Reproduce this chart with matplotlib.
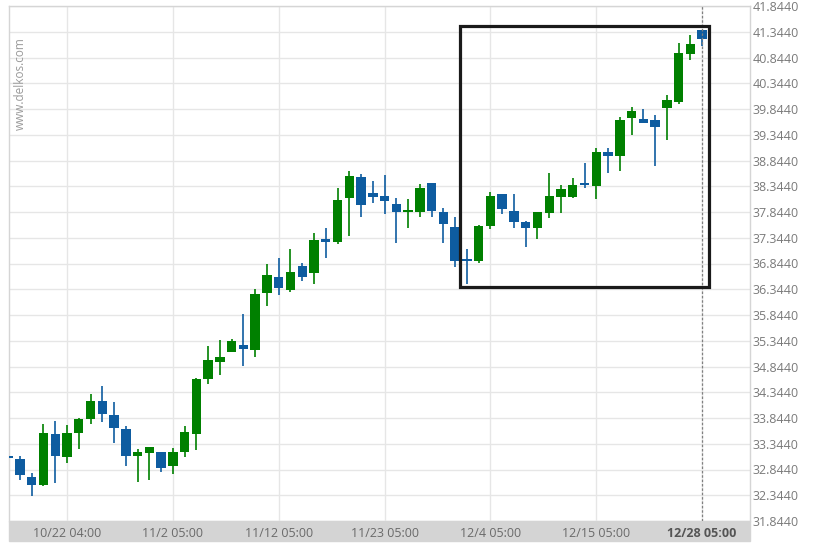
import matplotlib
matplotlib.use("Agg")
import matplotlib.pyplot as plt
from matplotlib.patches import Rectangle
import numpy as np

plt.rcParams['font.family'] = ['Open Sans', 'DejaVu Sans']

# daily candles
opens = [33.087, 33.048, 32.698, 32.543, 33.533, 33.087, 33.553, 33.825, 34.174, 33.902,
         33.630, 33.106, 33.164, 33.184, 32.912, 33.184, 33.533, 34.601, 34.931, 35.125,
         35.261, 35.164, 36.271, 36.582, 36.329, 36.796, 36.660, 37.320, 37.262, 38.116,
         38.524, 38.213, 38.155, 37.999, 37.844, 37.844, 38.407, 37.844, 37.553, 36.912,
         36.893, 37.572, 38.194, 37.863, 37.650, 37.533, 37.825, 38.135, 38.135, 38.407,
         38.349, 39.009, 38.931, 39.669, 39.650, 39.630, 39.863, 39.980, 40.912, 41.378]
highs = [33.126, 33.106, 32.776, 33.727, 33.786, 33.708, 33.844, 34.310, 34.465, 34.155,
         33.689, 33.242, 33.290, 33.190, 33.262, 33.689, 34.621, 35.242, 35.358, 35.380,
         35.864, 36.349, 36.834, 36.951, 37.126, 36.854, 37.436, 37.533, 38.310, 38.640,
         38.582, 38.446, 38.563, 38.116, 38.096, 38.388, 38.410, 37.922, 37.747, 37.126,
         37.592, 38.232, 38.200, 38.194, 37.660, 37.850, 38.601, 38.368, 38.504, 38.795,
         39.087, 39.087, 39.689, 39.883, 39.844, 39.727, 40.116, 41.126, 41.281, 41.380]
lows = [33.028, 32.640, 32.330, 32.530, 32.582, 32.970, 33.242, 33.727, 33.766, 33.358,
        32.912, 32.601, 32.640, 32.796, 32.757, 33.087, 33.223, 34.504, 34.679, 35.125,
        34.854, 35.028, 36.019, 36.232, 36.291, 36.504, 36.446, 36.951, 37.223, 37.378,
        37.747, 38.019, 37.805, 37.242, 37.533, 37.747, 37.747, 37.242, 36.776, 36.446,
        36.854, 37.514, 37.805, 37.533, 37.164, 37.320, 37.728, 37.825, 38.116, 38.310,
        38.096, 38.601, 38.640, 39.339, 39.570, 38.737, 39.242, 39.941, 40.795, 41.067]
closes = [33.067, 32.737, 32.543, 33.553, 33.106, 33.553, 33.825, 34.174, 33.922, 33.650,
          33.106, 33.184, 33.281, 32.873, 33.184, 33.572, 34.601, 34.970, 35.028, 35.339,
          35.184, 36.252, 36.621, 36.369, 36.679, 36.582, 37.300, 37.262, 38.077, 38.543,
          37.980, 38.135, 38.058, 37.844, 37.863, 38.310, 37.863, 37.611, 36.893, 36.893,
          37.572, 38.155, 37.902, 37.650, 37.533, 37.844, 38.155, 38.291, 38.368, 38.368,
          39.009, 38.931, 39.630, 39.805, 39.572, 39.495, 40.019, 40.931, 41.106, 41.203]

tick_idx = [5, 14, 23, 32, 41, 50, 59]
tick_labels = ['10/22 04:00', '11/2 05:00', '11/12 05:00', '11/23 05:00',
               '12/4 05:00', '12/15 05:00', '12/28 05:00']
ytick_vals = [31.844 + 0.5 * k for k in range(21)]

box_first = 39  # first candle inside the highlighted range

up_col = '#008000'
dn_col = '#0e5ca0'

o = np.array(opens); h = np.array(highs); l = np.array(lows); c = np.array(closes)
x = np.arange(len(o))
cols = np.where(c >= o, up_col, dn_col)

fig = plt.figure(figsize=(8.22, 5.48), dpi=100)
ax = fig.add_axes([9/822, 27/548, 741/822, 515/548])

ax.vlines(x, l, h, colors=cols, lw=1.2, zorder=3)
body = np.maximum(np.abs(c - o), 0.03)
ax.bar(x, body, bottom=np.minimum(o, c), width=0.8, color=cols, zorder=4, linewidth=0)

ax.set_xlim(0.07, 63.07)
ax.set_ylim(31.844, 41.844)

ax.set_yticks(ytick_vals)
ax.set_yticklabels(['%.4f' % v for v in ytick_vals])
ax.yaxis.tick_right()
ax.tick_params(axis='y', length=0, pad=2, labelsize=9, labelcolor='#7a7a7a')

ax.set_xticks(tick_idx)
ax.set_xticklabels(tick_labels)
ax.tick_params(axis='x', length=0, pad=4, labelsize=9, labelcolor='#6a6a6a')
lbls = ax.get_xticklabels()
lbls[-1].set_fontweight('bold')
lbls[-1].set_color('#555555')

ax.grid(True, color='#e6e6e6', lw=1, zorder=0)
ax.set_axisbelow(True)
for s in ax.spines.values():
    s.set_color('#d5d5d5')
    s.set_linewidth(1)
ax.spines['bottom'].set_visible(False)

# grey date band under the plot
ax.add_patch(Rectangle((0, -20/515), 1, 20/515, transform=ax.transAxes,
                       clip_on=False, color='#d4d4d4', zorder=0.1))

# last-candle marker
ax.axvline(x[-1], color='#808080', ls=(0, (2, 1.5)), lw=0.9, zorder=5)

# highlighted range
bx0 = box_first - 0.6
bx1 = x[-1] + 0.6
by0 = l[box_first:].min() - 0.06
by1 = h[box_first:].max() + 0.075
ax.add_patch(Rectangle((bx0, by0), bx1 - bx0, by1 - by0, fill=False,
                       ec='#1a1a1a', lw=2.3, zorder=6))

ax.text(0.015, 0.85, 'www.delkos.com', transform=ax.transAxes, rotation=90,
        ha='center', va='center', fontsize=8.5, color='#9a9a9a')

fig.savefig('out.png', dpi=100)
